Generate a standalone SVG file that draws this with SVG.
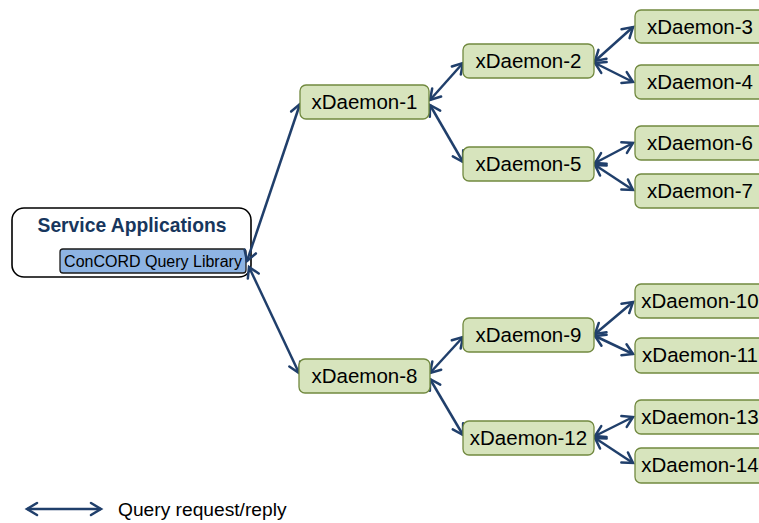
<svg xmlns="http://www.w3.org/2000/svg" width="759" height="523" viewBox="0 0 759 523">
  <defs>
    <marker id="open-arrow" markerUnits="userSpaceOnUse" markerWidth="20" markerHeight="20" viewBox="-14 -10 20 20" refX="0" refY="0" orient="auto-start-reverse">
      <path d="M-10,-6 L0,0 L-10,6" fill="none" stroke="#203F6B" stroke-width="2.5" stroke-linejoin="miter" stroke-linecap="round"/>
    </marker>
  </defs>
  <style>
    .daemon rect { fill: #D7E4BD; stroke: #71893F; stroke-width: 1.3; }
    .daemon text { font-family: "Liberation Sans", Arial, sans-serif; font-size: 20.5px; fill: #000; text-anchor: middle; }
    .link { stroke: #203F6B; stroke-width: 2.5; fill: none; marker-start: url(#open-arrow); marker-end: url(#open-arrow); }
  </style>
  <rect width="759" height="523" fill="#ffffff"/>

  <!-- client side: service applications with the query library -->
  <g id="service-applications">
    <rect x="12" y="208" width="239" height="69" rx="12" fill="#ffffff" stroke="#000" stroke-width="1.6"/>
    <text x="132" y="232" font-family="Liberation Sans, Arial, sans-serif" font-size="19.3" font-weight="bold" fill="#17365D" text-anchor="middle">Service Applications</text>
  </g>
  <g id="concord-query-library">
    <rect x="60" y="249" width="186" height="24" rx="3" fill="#8EB4E3" stroke="#1a1a1a" stroke-width="1.3"/>
    <text x="153" y="267" font-family="Liberation Sans, Arial, sans-serif" font-size="16" fill="#000" text-anchor="middle">ConCORD Query Library</text>
  </g>

  <!-- query request/reply links -->
  <g id="connectors">
    <line class="link" x1="247" y1="261" x2="300" y2="104"/>
    <line class="link" x1="249" y1="267" x2="299" y2="373"/>
    <line class="link" x1="430" y1="100" x2="463" y2="63"/>
    <line class="link" x1="430" y1="105" x2="463" y2="162"/>
    <line class="link" x1="595" y1="61" x2="633" y2="27"/>
    <line class="link" x1="595" y1="63" x2="633" y2="82"/>
    <line class="link" x1="595" y1="163" x2="633" y2="143"/>
    <line class="link" x1="595" y1="165" x2="633" y2="190"/>
    <line class="link" x1="430" y1="373" x2="463" y2="337"/>
    <line class="link" x1="430" y1="379" x2="463" y2="435"/>
    <line class="link" x1="595" y1="334" x2="633" y2="302"/>
    <line class="link" x1="595" y1="336" x2="633" y2="354"/>
    <line class="link" x1="595" y1="436" x2="633" y2="417"/>
    <line class="link" x1="595" y1="438" x2="633" y2="463"/>
  </g>

  <!-- daemon tree -->
  <g id="xdaemon-1" class="daemon"><rect x="300" y="85" width="129" height="34" rx="6"/><text x="364.5" y="109">xDaemon-1</text></g>
  <g id="xdaemon-2" class="daemon"><rect x="463" y="44" width="131" height="34" rx="6"/><text x="528.5" y="68">xDaemon-2</text></g>
  <g id="xdaemon-3" class="daemon"><rect x="635" y="10" width="130" height="33" rx="6"/><text x="700" y="34">xDaemon-3</text></g>
  <g id="xdaemon-4" class="daemon"><rect x="635" y="65" width="130" height="34" rx="6"/><text x="700" y="89">xDaemon-4</text></g>
  <g id="xdaemon-5" class="daemon"><rect x="463" y="147" width="131" height="34" rx="6"/><text x="528.5" y="171">xDaemon-5</text></g>
  <g id="xdaemon-6" class="daemon"><rect x="635" y="126" width="130" height="34" rx="6"/><text x="700" y="150">xDaemon-6</text></g>
  <g id="xdaemon-7" class="daemon"><rect x="635" y="174" width="130" height="34" rx="6"/><text x="700" y="198">xDaemon-7</text></g>
  <g id="xdaemon-8" class="daemon"><rect x="299" y="359" width="131" height="34" rx="6"/><text x="364.5" y="383">xDaemon-8</text></g>
  <g id="xdaemon-9" class="daemon"><rect x="463" y="318" width="131" height="34" rx="6"/><text x="528.5" y="342">xDaemon-9</text></g>
  <g id="xdaemon-10" class="daemon"><rect x="635" y="284" width="130" height="34" rx="6"/><text x="700" y="308">xDaemon-10</text></g>
  <g id="xdaemon-11" class="daemon"><rect x="635" y="338" width="130" height="35" rx="6"/><text x="700" y="362">xDaemon-11</text></g>
  <g id="xdaemon-12" class="daemon"><rect x="463" y="421" width="131" height="34" rx="6"/><text x="528.5" y="445">xDaemon-12</text></g>
  <g id="xdaemon-13" class="daemon"><rect x="635" y="400" width="130" height="34" rx="6"/><text x="700" y="424">xDaemon-13</text></g>
  <g id="xdaemon-14" class="daemon"><rect x="635" y="448" width="130" height="35" rx="6"/><text x="700" y="472">xDaemon-14</text></g>

  <!-- legend -->
  <g id="legend">
    <line class="link" x1="27" y1="509" x2="101" y2="509"/>
    <text x="118" y="516" font-family="Liberation Sans, Arial, sans-serif" font-size="19.2" fill="#000">Query request/reply</text>
  </g>
</svg>
